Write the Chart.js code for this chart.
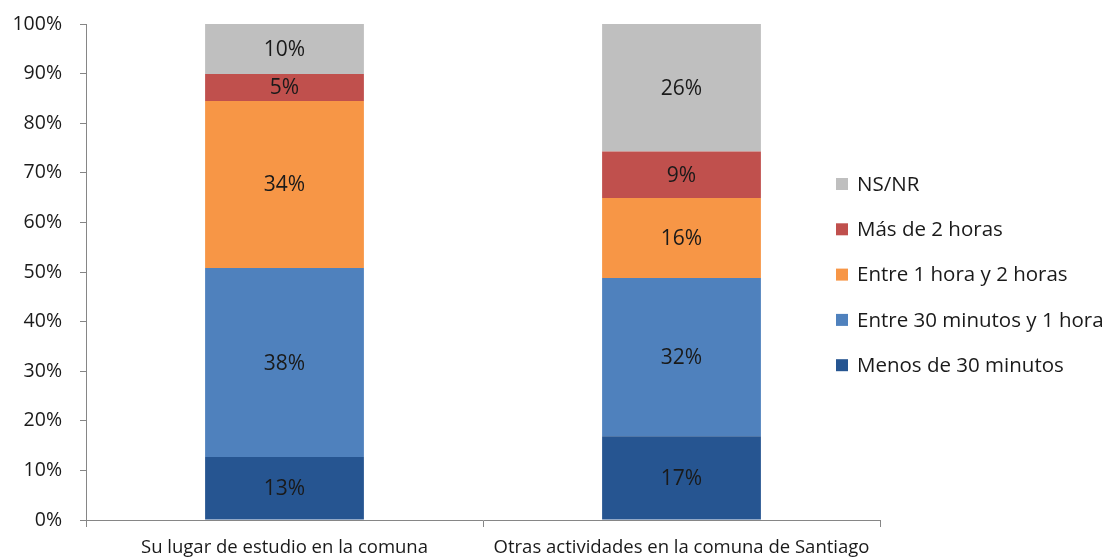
<!DOCTYPE html>
<html>
<head>
<meta charset="utf-8">
<script src="https://cdn.jsdelivr.net/npm/chart.js@4"></script>
<style>
  html, body { margin: 0; padding: 0; background: #fff; }
  #wrap { width: 1109px; height: 558px; position: relative; }
</style>
</head>
<body>
<div id="wrap"><canvas id="timeChart"></canvas></div>
<script>
const categories = ['Su lugar de estudio en la comuna', 'Otras actividades en la comuna de Santiago'];
const seriesNames = ['Menos de 30 minutos', 'Entre 30 minutos y 1 hora', 'Entre 1 hora y 2 horas', 'Más de 2 horas', 'NS/NR'];
const menos30 = [12.7, 16.9];
const entre30y1 = [38.1, 31.9];
const entre1y2 = [33.7, 16.1];
const mas2 = [5.4, 9.4];
const nsnr = [10.1, 25.7];
const yTicks = [0, 10, 20, 30, 40, 50, 60, 70, 80, 90, 100];

const colors = ['#265591', '#4f81bd', '#f79646', '#c0504d', '#bfbfbf'];
const allSeries = [menos30, entre30y1, entre1y2, mas2, nsnr];
const FONT = "'Open Sans', sans-serif";

// labels inside each segment + legend on the right
const labelPlugin = {
    id: 'segLabels',
    afterDatasetsDraw(chart) {
        const ctx = chart.ctx;
        ctx.save();
        ctx.font = '21px ' + FONT;
        ctx.fillStyle = '#1a1a1a';
        ctx.textAlign = 'center';
        ctx.textBaseline = 'middle';
        chart.data.datasets.forEach((ds, i) => {
            chart.getDatasetMeta(i).data.forEach((bar, j) => {
                const mid = (bar.y + bar.base) / 2;
                ctx.fillText(Math.round(ds.data[j]) + '%', bar.x, mid + 1);
            });
        });

        // legend, reversed order
        ctx.font = '20.5px ' + FONT;
        ctx.textAlign = 'left';
        const x0 = 836, y0 = 184, gap = 45.3;
        for (let k = seriesNames.length - 1, n = 0; k >= 0; k--, n++) {
            const y = y0 + n * gap;
            ctx.fillStyle = colors[k];
            ctx.fillRect(x0, y - 6, 12, 12);
            ctx.fillStyle = '#1a1a1a';
            ctx.fillText(seriesNames[k], x0 + 21, y + 1);
        }
        ctx.restore();
    }
};

new Chart(document.getElementById('timeChart').getContext('2d'), {
    type: 'bar',
    data: {
        labels: categories,
        datasets: allSeries.map((d, i) => ({
            label: seriesNames[i],
            data: d,
            backgroundColor: colors[i],
            borderWidth: 0,
            barPercentage: 1,
            categoryPercentage: 0.4
        }))
    },
    options: {
        responsive: true,
        maintainAspectRatio: false,
        animation: false,
        layout: { padding: { top: 24, right: 229, left: 0, bottom: 0 } },
        plugins: {
            legend: { display: false },
            tooltip: { enabled: false }
        },
        scales: {
            x: {
                stacked: true,
                grid: { drawOnChartArea: false, drawTicks: true, tickLength: 7, color: '#868686', offset: true },
                border: { color: '#868686' },
                ticks: { color: '#1a1a1a', font: { family: FONT, size: 18.5 }, padding: 10, maxRotation: 0 },
                afterFit(scale) { scale.height = 38; }
            },
            y: {
                stacked: true,
                min: 0,
                max: 100,
                afterBuildTicks(scale) { scale.ticks = yTicks.map(v => ({ value: v })); },
                grid: { drawOnChartArea: false, drawTicks: true, tickLength: 6, color: '#868686' },
                border: { color: '#868686' },
                ticks: {
                    color: '#1a1a1a',
                    font: { family: FONT, size: 19.5 },
                    padding: 18,
                    callback: v => v + '%'
                },
                afterFit(scale) {
                    scale.width = 86;
                    scale.paddingTop = 0;
                    scale.paddingBottom = 0;
                }
            }
        }
    },
    plugins: [labelPlugin]
});
</script>
</body>
</html>
